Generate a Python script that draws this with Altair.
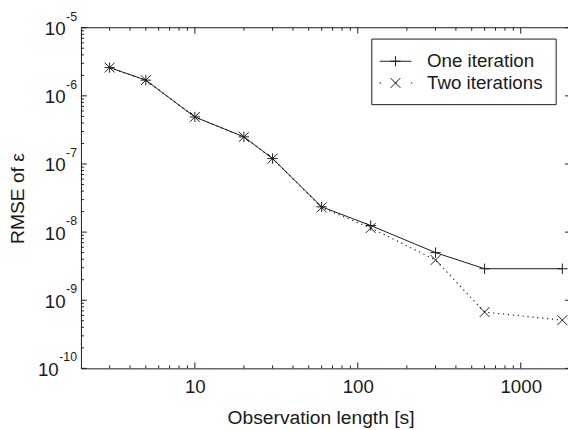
import altair as alt
import pandas as pd

# ---------------- data ----------------
obs_len = [3, 5, 10, 20, 30, 60, 120, 300, 600, 1800]
rmse_one = [2.6e-6, 1.7e-6, 4.9e-7, 2.5e-7, 1.2e-7, 2.35e-8, 1.25e-8, 5.0e-9, 2.9e-9, 2.9e-9]
rmse_two = [2.6e-6, 1.7e-6, 4.9e-7, 2.5e-7, 1.2e-7, 2.3e-8, 1.15e-8, 3.9e-9, 6.7e-10, 5.1e-10]
series_names = ["One iteration", "Two iterations"]
x_tick_labels = [10, 100, 1000]
y_exponents = [-5, -6, -7, -8, -9, -10]
x_domain = [2, 1950]
y_domain = [1e-10, 1e-5]

# ---------------- style ----------------
W = 494
H = 345.5
FONT = "Liberation Sans"
INK = "#1a1a1a"
FS = 19
PLUS = "M-1,0L1,0M0,-1L0,1"
CROSS = "M-1,-1L1,1M-1,1L1,-1"

xs = alt.Scale(type="log", domain=x_domain, nice=False)
ys = alt.Scale(type="log", domain=y_domain, nice=False)

x_axis = alt.Axis(
    values=x_tick_labels, format="d", ticks=False, tickSize=0, grid=False,
    domainColor=INK, domainWidth=1,
    labelFont=FONT, labelFontSize=FS, labelColor=INK, labelPadding=24.5,
    labelBaseline="alphabetic",
    title="Observation length [s]", titleFont=FONT, titleFontSize=19.5,
    titleFontWeight="normal", titleColor=INK, titleX=W / 2 - 4, titleY=55.5,
    titleAlign="center", titleBaseline="alphabetic",
)
y_axis = alt.Axis(
    labels=False, ticks=False, tickSize=0, grid=False,
    domainColor=INK, domainWidth=1,
    title="RMSE of ε", titleFont=FONT, titleFontSize=19.5, titleFontWeight="normal",
    titleColor=INK, titleX=-64, titleY=H / 2, titleAngle=270,
    titleAlign="center", titleBaseline="middle",
)


def X(f="x"):
    return alt.X(f"{f}:Q", scale=xs, axis=x_axis)


def Y(f="y"):
    return alt.Y(f"{f}:Q", scale=ys, axis=y_axis)


df_one = pd.DataFrame({"x": obs_len, "y": rmse_one})
df_two = pd.DataFrame({"x": obs_len, "y": rmse_two})

line_two = alt.Chart(df_two).mark_line(color=INK, strokeWidth=1.2, strokeDash=[1.2, 3.8]).encode(x=X(), y=Y())
line_one = alt.Chart(df_one).mark_line(color=INK, strokeWidth=1).encode(x=X(), y=Y())
pts_two = alt.Chart(df_two).mark_point(shape=CROSS, size=100, filled=False, stroke=INK,
                                        strokeWidth=1, opacity=1).encode(x=X(), y=Y())
pts_one = alt.Chart(df_one).mark_point(shape=PLUS, size=110, filled=False, stroke=INK,
                                        strokeWidth=1, opacity=1).encode(x=X(), y=Y())

# ---------------- inward ticks ----------------
ymaj = pd.DataFrame({"y": [10.0 ** e for e in y_exponents]})
ymin = pd.DataFrame({"y": [k * 10.0 ** e for e in range(-10, -5) for k in range(2, 10)]})
xmaj = pd.DataFrame({"x": x_tick_labels})
xmin = pd.DataFrame({"x": [k * 10 ** e for e in range(0, 4) for k in range(2, 10)
                           if x_domain[0] < k * 10 ** e < x_domain[1]]})

tick_layers = [
    alt.Chart(ymaj).mark_rule(color=INK).encode(y=Y(), x=alt.value(0), x2=alt.value(6)),
    alt.Chart(ymin).mark_rule(color=INK).encode(y=Y(), x=alt.value(0), x2=alt.value(3)),
    alt.Chart(ymaj).mark_rule(color=INK).encode(y=Y(), x=alt.value(W - 3), x2=alt.value(W)),
    alt.Chart(xmaj).mark_rule(color=INK).encode(x=X(), y=alt.value(H), y2=alt.value(H - 6)),
    alt.Chart(xmin).mark_rule(color=INK).encode(x=X(), y=alt.value(H), y2=alt.value(H - 3)),
    alt.Chart(xmaj).mark_rule(color=INK).encode(x=X(), y=alt.value(0), y2=alt.value(6)),
    alt.Chart(xmin).mark_rule(color=INK).encode(x=X(), y=alt.value(0), y2=alt.value(3)),
]

one_row = pd.DataFrame({"k": [0]})
top_border = alt.Chart(one_row).mark_rule(color=INK, strokeWidth=1).encode(
    x=alt.value(0), x2=alt.value(W), y=alt.value(0))

# ---------------- y tick labels 10^e ----------------
ylab = pd.DataFrame({"y": [10.0 ** e for e in y_exponents], "exp": [str(e) for e in y_exponents]})
exp_text = alt.Chart(ylab).mark_text(align="right", baseline="alphabetic", dy=-7,
                                     fontSize=12.5, font=FONT, color=INK).encode(
    y=Y(), x=alt.value(-4), text="exp:N")
base_text = alt.Chart(ylab).transform_calculate(
    lx="-4.5 - 12.5*(0.333 + 0.556*(length(datum.exp)-1))"
).mark_text(align="right", baseline="alphabetic", dy=7.5, fontSize=FS, font=FONT, color=INK).encode(
    y=Y(), x=alt.X("lx:Q", scale=None), text=alt.value("10"))

# ---------------- legend ----------------
leg1 = pd.DataFrame({"label": [series_names[0]]})
leg2 = pd.DataFrame({"label": [series_names[1]]})
legend_layers = [
    alt.Chart(one_row).mark_rect(fill="white", stroke=INK, strokeWidth=1).encode(
        x=alt.value(295), x2=alt.value(482), y=alt.value(11.5), y2=alt.value(78)),
    alt.Chart(one_row).mark_rule(color=INK, strokeWidth=1).encode(
        x=alt.value(303), x2=alt.value(335), y=alt.value(34)),
    alt.Chart(one_row).mark_point(shape=PLUS, size=110, filled=False, stroke=INK, strokeWidth=1,
                                  opacity=1).encode(x=alt.value(319), y=alt.value(34)),
    alt.Chart(leg1).mark_text(align="left", baseline="middle", fontSize=FS, font=FONT,
                              color=INK).encode(x=alt.value(351), y=alt.value(34), text="label:N"),
    alt.Chart(one_row).mark_rule(color=INK, strokeWidth=1.2, strokeDash=[1.2, 14.8]).encode(
        x=alt.value(303), x2=alt.value(336), y=alt.value(56)),
    alt.Chart(one_row).mark_point(shape=CROSS, size=100, filled=False, stroke=INK, strokeWidth=1,
                                  opacity=1).encode(x=alt.value(319), y=alt.value(56)),
    alt.Chart(leg2).mark_text(align="left", baseline="middle", fontSize=FS, font=FONT,
                              color=INK).encode(x=alt.value(351), y=alt.value(56), text="label:N"),
]

chart = alt.layer(
    line_two, line_one, pts_two, pts_one, *tick_layers, top_border,
    exp_text, base_text, *legend_layers
).properties(
    width=W, height=H,
    autosize=alt.AutoSizeParams(type="none"),
    padding={"left": 74, "top": 17, "right": 0, "bottom": 59.5},
).configure_view(stroke=None)

chart.save("out.html", embed_options={"renderer": "svg", "actions": False})
